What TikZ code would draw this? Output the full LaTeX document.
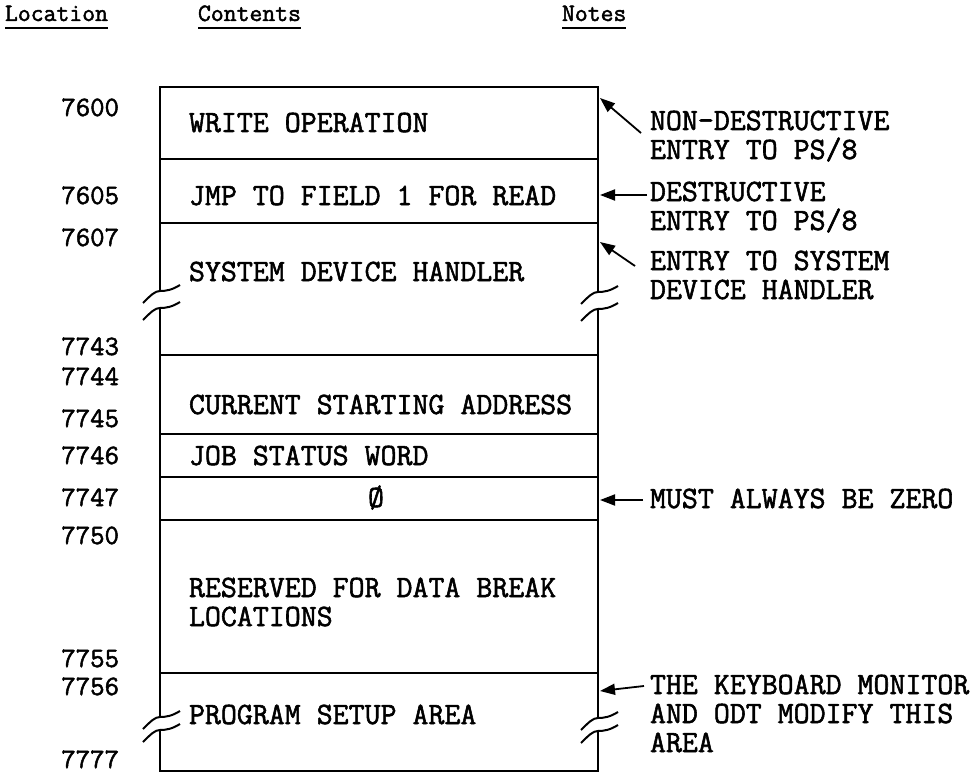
\documentclass[tikz,border=0pt]{standalone}
\usepackage{fontspec}
\setmonofont{Latin Modern Mono}[FakeBold=1.8]
\usetikzlibrary{arrows.meta}

\begin{document}
\begin{tikzpicture}[x=1pt,y=-1pt,
  every node/.style={inner sep=0pt, outer sep=0pt},
  body/.style={font=\ttfamily\fontsize{31}{31}\selectfont, anchor=base west},
  addr/.style={font=\ttfamily\fontsize{28}{28}\selectfont, anchor=base east},
  head/.style={font=\ttfamily\fontsize{25}{25}\selectfont, anchor=base west},
  frame/.style={line width=2.2pt, line cap=round},
  rule/.style={line width=1.8pt},
  uline/.style={line width=2.4pt},
  ptr/.style={line width=1.8pt, -{Triangle[length=15pt,width=11pt]}},
  brk/.pic={\draw[line width=2pt] (-17,12) .. controls (-9,4) and (-5,0) .. (0,0)
            .. controls (6,0) and (12,-1) .. (20,-6);}
  ]
\useasboundingbox (0,0) rectangle (980,773);

% column headings
\node[head] (hloc) at (5,21) {Location};
\node[head] (hcon) at (198,21) {Contents};
\node[head] (hnot) at (562,21) {Notes};
\foreach \h in {hloc,hcon,hnot}
  \draw[uline] ([yshift=-7pt]\h.base west) -- ([yshift=-7pt]\h.base east);

% outer frame, interrupted at two breaks on each side
\draw[frame] (160,291) -- (160,87) -- (598,87) -- (598,292);
\draw[frame] (160,308) -- (160,717);
\draw[frame] (598,309) -- (598,718);
\draw[frame] (160,730) -- (160,771) -- (598,771) -- (598,731);
\pic at (160,291) {brk};
\pic at (160,308) {brk};
\pic at (598,292) {brk};
\pic at (598,309) {brk};
\pic at (160,717) {brk};
\pic at (160,730) {brk};
\pic at (598,718) {brk};
\pic at (598,731) {brk};

% partitions
\foreach \y in {159,223,355,434,477,520,673}
  \draw[rule] (160,\y) -- (598,\y);

% addresses
\node[addr] (a7600) at (119,116) {7600};
\node[addr] (a7605) at (119,204) {7605};
\node[addr] (a7607) at (119,246) {7607};
\node[addr] (a7743) at (119,355) {7743};
\node[addr] (a7744) at (119,385) {7744};
\node[addr] (a7745) at (119,427) {7745};
\node[addr] (a7746) at (119,464) {7746};
\node[addr] (a7747) at (119,506) {7747};
\node[addr] (a7750) at (119,544) {7750};
\node[addr] (a7755) at (119,667) {7755};
\node[addr] (a7756) at (119,695) {7756};
\node[addr] (a7777) at (119,768) {7777};

% contents
\node[body] (cwrite) at (189,132) {WRITE OPERATION};
\node[body] (cjmp)   at (189,205) {JMP TO FIELD 1 FOR READ};
\node[body] (csys)   at (189,281) {SYSTEM DEVICE HANDLER};
\node[body] (ccsa)   at (189,414) {CURRENT STARTING ADDRESS};
\node[body] (cjsw)   at (189,465) {JOB STATUS WORD};
\node[body, anchor=base] (czero) at (376,507) {Ø};
\node[body] (cres1)  at (189,597) {RESERVED FOR DATA BREAK};
\node[body] (cres2)  at (189,626) {LOCATIONS};
\node[body] (cpsa)   at (189,724) {PROGRAM SETUP AREA};

% notes
\node[body] (n1a) at (650,130) {NON-DESTRUCTIVE};
\node[body] (n1b) at (650,159) {ENTRY TO PS/8};
\node[body] (n2a) at (650,201) {DESTRUCTIVE};
\node[body] (n2b) at (650,230) {ENTRY TO PS/8};
\node[body] (n3a) at (650,270) {ENTRY TO SYSTEM};
\node[body] (n3b) at (650,299) {DEVICE HANDLER};
\node[body] (n4a) at (650,508) {MUST ALWAYS BE ZERO};
\node[body] (n5a) at (650,694) {THE KEYBOARD MONITOR};
\node[body] (n5b) at (650,723) {AND ODT MODIFY THIS};
\node[body] (n5c) at (650,752) {AREA};

% arrow tails and tips
\coordinate (t1) at (641,133); \coordinate (p1) at (600,98);
\coordinate (t2) at (647,195); \coordinate (p2) at (600,195);
\coordinate (t3) at (635,266); \coordinate (p3) at (600,242);
\coordinate (t4) at (643,500); \coordinate (p4) at (600,500);
\coordinate (t5) at (644,686); \coordinate (p5) at (600,691);
\draw[ptr] (t1) -- (p1);
\draw[ptr] (t2) -- (p2);
\draw[ptr] (t3) -- (p3);
\draw[ptr] (t4) -- (p4);
\draw[ptr] (t5) -- (p5);
\end{tikzpicture}
\end{document}
